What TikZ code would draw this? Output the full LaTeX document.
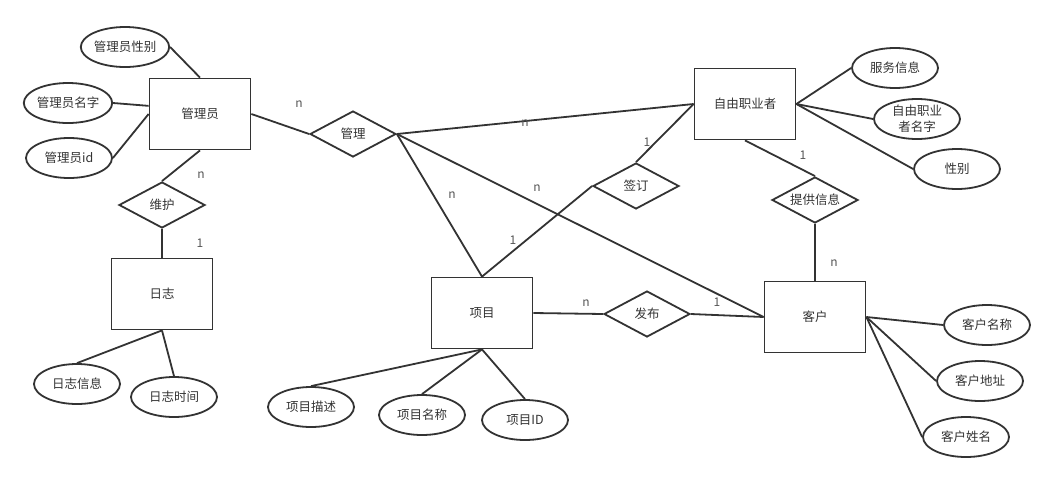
\documentclass[tikz,border=0pt]{standalone}
\usepackage{fontspec}
\setmainfont{Noto Sans CJK SC}
\usetikzlibrary{shapes.geometric}
\definecolor{ink}{HTML}{333333}
\definecolor{lbl}{HTML}{555555}
\tikzset{
  ent/.style={draw=ink, line width=1.8pt, rectangle, minimum width=101pt, minimum height=71pt, inner sep=0pt, text=ink, font=\fontsize{12.5}{15}\selectfont},
  attr/.style={draw=ink, line width=1.8pt, ellipse, minimum width=86pt, minimum height=40pt, inner sep=0pt, text=ink, font=\fontsize{12.5}{16}\selectfont, align=center},
  rel/.style={draw=ink, line width=1.8pt, diamond, aspect=1.87, minimum width=86pt, minimum height=46pt, inner sep=0pt, text=ink, font=\fontsize{12.5}{15}\selectfont},
  conn/.style={draw=ink, line width=1.8pt},
  card/.style={text=lbl, font=\fontsize{12}{14}\selectfont, inner sep=0pt}
}
\begin{document}
\begin{tikzpicture}[x=1pt,y=-1pt]
\useasboundingbox (0,0) rectangle (1054,480);
% entities
\node[ent] (gly) at (200,114) {管理员};
\node[ent] (rz) at (162,294) {日志};
\node[ent] (zy) at (745,104) {自由职业者};
\node[ent] (xm) at (482,313) {项目};
\node[ent] (kh) at (815,317) {客户};
% relations
\node[rel] (gl) at (353,134) {管理};
\node[rel] (wh) at (162,205) {维护};
\node[rel] (qd) at (636,186) {签订};
\node[rel] (tg) at (815,200) {提供信息};
\node[rel] (fb) at (647,314) {发布};
% attributes
\node[attr] (glyxb) at (125,47) {管理员性别};
\node[attr] (glymz) at (68,103) {管理员名字};
\node[attr] (glyid) at (69,158) {管理员id};
\node[attr] (rzxx) at (77,384) {日志信息};
\node[attr] (rzsj) at (174,397) {日志时间};
\node[attr] (fwxx) at (895,68) {服务信息};
\node[attr] (zymz) at (917,119) {自由职业\\者名字};
\node[attr] (xb) at (957,169) {性别};
\node[attr] (khmc) at (987,325) {客户名称};
\node[attr] (khdz) at (980,381) {客户地址};
\node[attr] (khxm) at (966,437) {客户姓名};
\node[attr] (xmms) at (311,407) {项目描述};
\node[attr] (xmmc) at (422,415) {项目名称};
\node[attr] (xmid) at (525,420) {项目ID};
% attribute connectors
\draw[conn] (glyxb.east) -- (gly.north);
\draw[conn] (glymz.east) -- (gly.171);
\draw[conn] (glyid.east) -- (gly.west);
\draw[conn] (rz.south) -- (rzxx.north);
\draw[conn] (rz.south) -- (rzsj.north);
\draw[conn] (zy.east) -- (fwxx.west);
\draw[conn] (zy.east) -- (zymz.west);
\draw[conn] (zy.east) -- (xb.west);
\draw[conn] (kh.east) -- (khmc.west);
\draw[conn] (kh.east) -- (khdz.west);
\draw[conn] (kh.east) -- (khxm.west);
\draw[conn] (xm.south) -- (xmms.north);
\draw[conn] (xm.south) -- (xmmc.north);
\draw[conn] (xm.south) -- (xmid.north);
% relation connectors
\draw[conn] (gly.east) -- (gl.west);
\draw[conn] (gly.south) -- (wh.north);
\draw[conn] (wh.south) -- (rz.north);
\draw[conn] (gl.east) -- (zy.west);
\draw[conn] (gl.east) -- (xm.north);
\draw[conn] (gl.east) -- (kh.west);
\draw[conn] (xm.north) -- (qd.west);
\draw[conn] (qd.north) -- (zy.west);
\draw[conn] (zy.south) -- (tg.north);
\draw[conn] (tg.south) -- (kh.north);
\draw[conn] (xm.east) -- (fb.west);
\draw[conn] (fb.east) -- (kh.west);
% cardinalities
\node[card] (c1) at (299,104) {n};
\node[card] (c2) at (201,175) {n};
\node[card] (c3) at (200,243) {1};
\node[card] (c4) at (525,123) {n};
\node[card] (c5) at (452,195) {n};
\node[card] (c6) at (537,188) {n};
\node[card] (c7) at (647,142) {1};
\node[card] (c8) at (513,240) {1};
\node[card] (c9) at (803,155) {1};
\node[card] (c10) at (834,263) {n};
\node[card] (c11) at (586,303) {n};
\node[card] (c12) at (717,302) {1};
\end{tikzpicture}
\end{document}
